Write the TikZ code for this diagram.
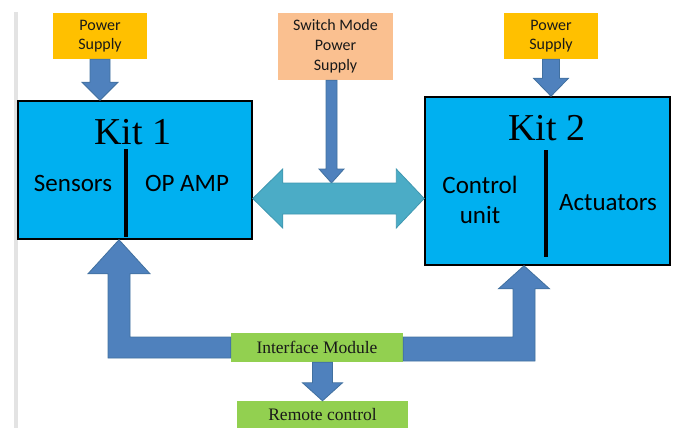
\documentclass[tikz,border=0pt]{standalone}
\usepackage{fontspec}
\setmainfont{Liberation Serif}
\newfontfamily\calibri{Carlito}
\usetikzlibrary{calc}
\definecolor{psorange}{HTML}{FFC000}
\definecolor{smpspeach}{HTML}{FAC090}
\definecolor{kitblue}{HTML}{00B0F0}
\definecolor{arrowblue}{HTML}{4F81BD}
\definecolor{arrowedge}{HTML}{41709F}
\definecolor{linkteal}{HTML}{4BACC6}
\definecolor{linkedge}{HTML}{3F97B0}
\definecolor{ifgreen}{HTML}{92D050}
\def\fatvert[#1](#2)(#3)(#4:#5:#6){\draw[#1] ($(#2)+(-#4,0)$) -- ($(#3)+(-#4,#6)$) -- ($(#3)+(-#5,#6)$) -- (#3) -- ($(#3)+(#5,#6)$) -- ($(#3)+(#4,#6)$) -- ($(#2)+(#4,0)$) -- cycle;}
\tikzset{
	supplybox/.style={fill=#1, draw=none, inner sep=0pt, align=center, text=black!90, font=\calibri\fontsize{16}{19.5}\selectfont},
	kitbox/.style={fill=kitblue, draw=black, line width=1.5pt, inner sep=0pt},
	greenbox/.style={fill=ifgreen, draw=none, inner sep=0pt, text=black!90, font=\fontsize{17.5}{20}\selectfont},
	bluearrow/.style={fill=arrowblue, draw=arrowedge, line width=0.8pt, line join=miter},
	kittitle/.style={font=\fontsize{38}{40}\selectfont, text=black, inner sep=0pt},
	kitpart/.style={font=\calibri\fontsize{25}{30}\selectfont, text=black, align=center, inner sep=0pt},
	divider/.style={line width=4.5pt, draw=black}
}
\begin{document}
\begin{tikzpicture}[x=1pt, y=-1pt]
		%%%%% START %%%%%
		\useasboundingbox (0,0) rectangle (675,428);
		\draw[line width=4pt, color=black!11] (16,12) -- (16,428);
		
		% supplies
		\node[supplybox=psorange, minimum width=94pt, minimum height=46pt] (ps1) at (100,36) {Power\\Supply};
		\node[supplybox=smpspeach, minimum width=115pt, minimum height=67pt, font=\calibri\fontsize{16}{20}\selectfont] (smps) at (335.5,46.5) {Switch Mode\\Power\\Supply};
		\node[supplybox=psorange, minimum width=94pt, minimum height=46pt] (ps2) at (551,36) {Power\\Supply};
		
		% kits
		\node[kitbox, minimum width=234pt, minimum height=138pt] (kit1) at (135,170) {};
		\node[kitbox, minimum width=245pt, minimum height=168pt] (kit2) at (547.5,181) {};
		
		\node[kittitle] (kit1title) at (133,132) {Kit 1};
		\node[kitpart] (sensors) at (73,183) {Sensors};
		\node[kitpart] (opamp) at (187,183) {OP AMP};
		\draw[divider] (126,149) -- (126,237);
		
		\node[kittitle] (kit2title) at (547,128) {Kit 2};
		\node[kitpart] (control) at (480,200) {Control\\unit};
		\node[kitpart] (actuators) at (608,203) {Actuators};
		\draw[divider] (546,150) -- (546,257);
		
		% interface
		\node[greenbox, minimum width=172pt, minimum height=29pt] (iface) at (317,347.5) {Interface Module};
		\node[greenbox, minimum width=171pt, minimum height=27pt] (remote) at (322.5,414.5) {Remote control};
		
		% power arrows
		\fatvert[bluearrow](ps1.south)(ps1.south |- kit1.north)(10:18:-18);
		\fatvert[bluearrow](ps2.south)(ps2.south |- kit2.north)(8.5:17.5:-18);
		\coordinate (smpsout) at ($(smps.south)+(-4,0)$);
		\coordinate (smpsin) at (smpsout |- 0,183);
		\fatvert[bluearrow](smpsout)(smpsin)(5.5:12.5:-14);
		
		% link between kits
		\coordinate (dl) at (kit1.east |- 0,198.5);
		\coordinate (dr) at (kit2.west |- 0,198.5);
		\draw[fill=linkteal, draw=linkedge, line width=0.8pt] (dl) -- ($(dl)+(30,-29.5)$) -- ($(dl)+(30,-15.5)$) -- ($(dr)+(-28,-15.5)$) -- ($(dr)+(-28,-29.5)$) -- (dr) -- ($(dr)+(-28,29.5)$) -- ($(dr)+(-28,15.5)$) -- ($(dl)+(30,15.5)$) -- ($(dl)+(30,29.5)$) -- cycle;
		
		% interface arrows
		\coordinate (ltip) at (119,0 |- kit1.south);
		\draw[bluearrow] ($(iface.west)+(0,-10.5)$) -- ($(ltip |- iface.west)+(11,-10.5)$) -- ($(ltip)+(11,34)$) -- ($(ltip)+(31,34)$) -- (ltip) -- ($(ltip)+(-31,34)$) -- ($(ltip)+(-11,34)$) -- ($(ltip |- iface.west)+(-11,10.5)$) -- ($(iface.west)+(0,10.5)$) -- cycle;
		\coordinate (rtip) at (524,0 |- kit2.south);
		\draw[bluearrow] ($(iface.east)+(0,-10.5)$) -- ($(rtip |- iface.east)+(-11,-10.5)$) -- ($(rtip)+(-11,23)$) -- ($(rtip)+(-25.5,23)$) -- (rtip) -- ($(rtip)+(25.5,23)$) -- ($(rtip)+(11,23)$) -- ($(rtip |- iface.east)+(11,13.5)$) -- ($(iface.east)+(0,13.5)$) -- cycle;
		\coordinate (ifaceout) at (remote.north |- iface.south);
		\fatvert[bluearrow](ifaceout)(remote.north)(10:20:-18);
		
		%%%%% END %%%%%
	\end{tikzpicture}
\end{document}
